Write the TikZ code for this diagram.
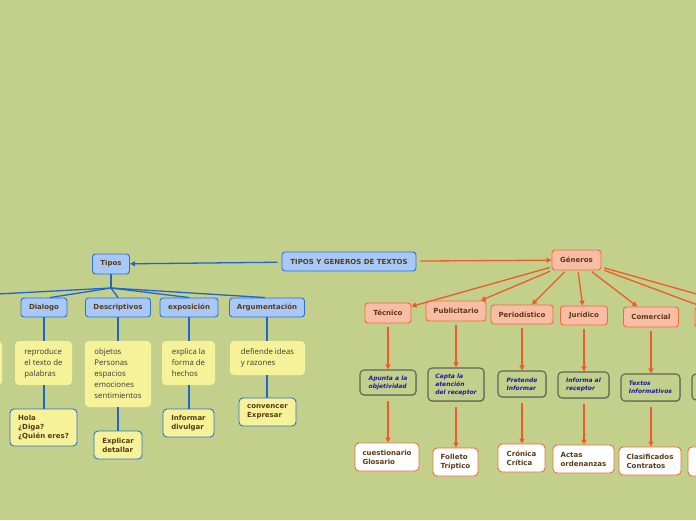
\documentclass[tikz,border=0pt]{standalone}
\usepackage{fontspec}
\setmainfont{DejaVu Sans}
\newfontfamily\regfont{Open Sans}
\usetikzlibrary{arrows.meta,shadows}
\definecolor{bg}{HTML}{C3D08C}
\definecolor{bfill}{HTML}{A8C9F8}
\definecolor{bbord}{HTML}{2F6FD4}
\definecolor{blin}{HTML}{1F66CC}
\definecolor{sfill}{HTML}{F9BDA5}
\definecolor{sbord}{HTML}{F26B3A}
\definecolor{olin}{HTML}{F05A28}
\definecolor{yfill}{HTML}{F5F29A}
\definecolor{gbord}{HTML}{5E6652}
\definecolor{tbrown}{HTML}{5B3A14}
\definecolor{tgray}{HTML}{3C3C32}
\definecolor{tblue}{HTML}{1A1AA0}
\tikzset{
  boldtxt/.style={font=\fontsize{7}{9}\selectfont\bfseries},
  bluenode/.style={draw=bbord, fill=bfill, rounded corners=3pt, line width=0.9pt, boldtxt, text=tbrown, inner sep=0pt, align=center},
  salnode/.style={draw=sbord, fill=sfill, rounded corners=3pt, line width=0.9pt, boldtxt, text=tbrown, inner sep=0pt, align=center},
  ybox/.style={fill=yfill, rounded corners=4pt, font=\regfont\fontsize{7.8}{11}\selectfont, text=tgray, inner sep=0pt, align=left},
  ybbox/.style={fill=yfill, draw=bbord, line width=0.9pt, rounded corners=4pt, boldtxt, text=tbrown, inner sep=0pt, align=left},
  gbox/.style={draw=gbord, fill=bg, line width=1.1pt, rounded corners=4pt, font=\fontsize{6}{8}\selectfont\bfseries\itshape, text=tblue, inner sep=0pt, align=left, drop shadow={shadow xshift=0.8pt, shadow yshift=-0.9pt, opacity=0.45}},
  wbox/.style={draw=sbord, fill=white, line width=0.9pt, rounded corners=4pt, boldtxt, text=tbrown, inner sep=0pt, align=left},
  bl/.style={draw=blin, line width=1.3pt},
  ol/.style={draw=olin, line width=1.3pt, -{Triangle[length=5pt,width=5pt]}},
}
\begin{document}
\begin{tikzpicture}[x=1pt,y=-1pt]
\useasboundingbox (0,0) rectangle (696,520);
\clip (0,0) rectangle (696,520);
\fill[bg] (0,0) rectangle (696,520);

% central
\node[bluenode, minimum width=134pt, minimum height=19pt] (cen) at (349,261.5) {TIPOS Y GENEROS DE TEXTOS};
\node[bluenode, minimum width=37pt, minimum height=20pt] (tipos) at (111,264) {Tipos};
\node[salnode, minimum width=49pt, minimum height=20pt] (gen) at (576.5,260) {Géneros};

\draw[bl, -{Triangle[length=5pt,width=5pt]}, shorten <=4pt] (cen) -- (tipos);
\draw[ol, shorten <=4pt] (cen) -- (gen);

% Tipos branch
\node[bluenode, minimum width=46pt, minimum height=19pt] (dia) at (44,307.5) {Dialogo};
\node[bluenode, minimum width=65pt, minimum height=19pt] (des) at (118,307.5) {Descriptivos};
\node[bluenode, minimum width=58pt, minimum height=19pt] (exp) at (189,307.5) {exposición};
\node[bluenode, minimum width=75pt, minimum height=19pt] (arg) at (267,307.5) {Argumentación};

\coordinate (tj) at (111,288);
\coordinate (offl) at (-40,296);
\draw[bl] (tipos.south) -- (tj);
\draw[bl] (tj) -- (offl);
\draw[bl] (tj) -- ([xshift=6pt]dia.north);
\draw[bl] (tj) -- (des.north);
\draw[bl] (tj) -- (exp.north);
\draw[bl] (tj) -- ([xshift=-2pt]arg.north);

\node[ybox, minimum width=54pt, minimum height=44pt] (yoff) at (-25,363) {};
\node[ybox, minimum width=57pt, minimum height=44pt] (y1) at (43.5,363) {reproduce\\el texto de\\palabras};
\node[ybox, minimum width=66pt, minimum height=66pt] (y2) at (118,374) {objetos\\Personas\\espacios\\emociones\\sentimientos};
\node[ybox, minimum width=53pt, minimum height=44pt] (y3) at (188.5,363) {explica la\\forma de\\hechos};
\node[ybox, minimum width=75pt, minimum height=34pt] (y4) at (267.5,358) {defiende ideas\\y razones};

\node[ybbox, minimum width=67pt, minimum height=37pt] (b1) at (43.5,427.5) {Hola\\¿Diga?\\¿Quién eres?};
\node[ybbox, minimum width=48pt, minimum height=28pt] (b2) at (118,445) {Explicar\\detallar};
\node[ybbox, minimum width=51pt, minimum height=28pt] (b3) at (188.5,423) {Informar\\divulgar};
\node[ybbox, minimum width=57pt, minimum height=28pt] (b4) at (267.5,412) {convencer\\Expresar};

\draw[bl] (dia.south) -- (dia.south |- y1.north);
\draw[bl] (des.south) -- (des.south |- y2.north);
\draw[bl] (exp.south) -- (exp.south |- y3.north);
\draw[bl] (arg.south) -- (arg.south |- y4.north);
\draw[bl] (dia.south |- y1.south) -- (dia.south |- b1.north);
\draw[bl] (des.south |- y2.south) -- (des.south |- b2.north);
\draw[bl] (exp.south |- y3.south) -- (exp.south |- b3.north);
\draw[bl] (arg.south |- y4.south) -- (arg.south |- b4.north);

% Generos branch
\node[salnode, minimum width=46pt, minimum height=20pt] (tec) at (388,313) {Técnico};
\node[salnode, minimum width=60pt, minimum height=20pt] (pub) at (456,311) {Publicitario};
\node[salnode, minimum width=62pt, minimum height=19pt] (per) at (522,314.5) {Periodístico};
\node[salnode, minimum width=47pt, minimum height=19pt] (jur) at (584,315.5) {Jurídico};
\node[salnode, minimum width=55pt, minimum height=20pt] (com) at (651,317) {Comercial};
\node[salnode, minimum width=70pt, minimum height=20pt] (offs) at (730,317) {};
\coordinate (offg) at (760,312);

\draw[ol, shorten <=2pt] (gen) -- (tec);
\draw[ol, shorten <=2pt] (gen) -- (pub);
\draw[ol, shorten <=2pt] (gen) -- (per);
\draw[ol, shorten <=2pt] (gen) -- (jur);
\draw[ol, shorten <=2pt] (gen) -- (com);
\draw[ol, shorten <=3pt] (gen) -- (offs);
\draw[ol, shorten <=3pt] (gen) -- (offg);

\node[gbox, minimum width=56pt, minimum height=25pt] (g1) at (388,382.5) {Apunta a la\\objetividad};
\node[gbox, minimum width=56pt, minimum height=33pt] (g2) at (456,384.5) {Capta la\\atención\\del receptor};
\node[gbox, minimum width=48pt, minimum height=26pt] (g3) at (522,384) {Pretende\\Informar};
\node[gbox, minimum width=51pt, minimum height=26pt] (g4) at (583.5,385) {Informa al\\receptor};
\node[gbox, minimum width=59pt, minimum height=27pt] (g5) at (650.5,387.5) {Textos\\Informativos};
\node[gbox, minimum width=76pt, minimum height=26pt] (g6) at (730,387) {};

\node[wbox, minimum width=64pt, minimum height=28pt] (w1) at (387,457) {cuestionario\\Glosario};
\node[wbox, minimum width=45pt, minimum height=28pt] (w2) at (455.5,462) {Folleto\\Tríptico};
\node[wbox, minimum width=47pt, minimum height=28pt] (w3) at (521.5,458) {Crónica\\Crítica};
\node[wbox, minimum width=61pt, minimum height=28pt] (w4) at (583.5,459) {Actas\\ordenanzas};
\node[wbox, minimum width=62pt, minimum height=28pt] (w5) at (650,461) {Clasificados\\Contratos};
\node[wbox, minimum width=84pt, minimum height=29pt] (w6) at (730,461.5) {};

\draw[ol, shorten <=4pt] (tec.south) -- (tec.south |- g1.north);
\draw[ol, shorten <=4pt] (pub.south) -- (pub.south |- g2.north);
\draw[ol, shorten <=4pt] (per.south) -- (per.south |- g3.north);
\draw[ol, shorten <=4pt] (jur.south) -- (jur.south |- g4.north);
\draw[ol, shorten <=4pt] (com.south) -- (com.south |- g5.north);
\draw[ol, shorten <=5pt] (tec.south |- g1.south) -- (tec.south |- w1.north);
\draw[ol, shorten <=5pt] (pub.south |- g2.south) -- (pub.south |- w2.north);
\draw[ol, shorten <=5pt] (per.south |- g3.south) -- (per.south |- w3.north);
\draw[ol, shorten <=5pt] (jur.south |- g4.south) -- (jur.south |- w4.north);
\draw[ol, shorten <=5pt] (com.south |- g5.south) -- (com.south |- w5.north);
\end{tikzpicture}
\end{document}
